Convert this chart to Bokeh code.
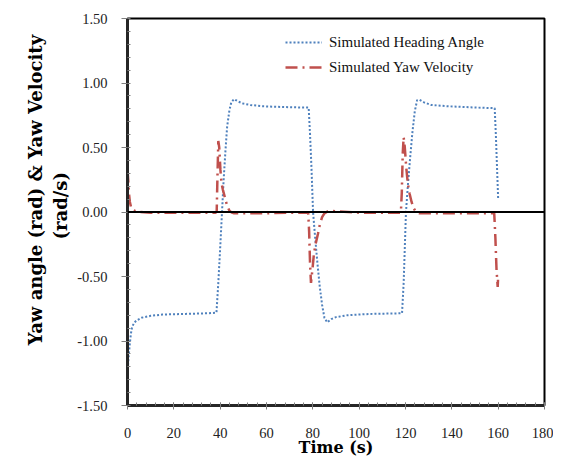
from bokeh.plotting import figure
from bokeh.embed import file_html
from bokeh.resources import INLINE
from bokeh.models import Span, SingleIntervalTicker, NumeralTickFormatter, Legend, LegendItem

# ---- data ----
heading_t = [0, 0.5, 1, 1.5, 2, 3, 4, 6, 10, 15, 25, 35, 38.4,
             39.2, 40, 40.8, 41.5, 42.3, 43, 44, 44.8, 46, 48, 50, 53, 58, 65, 75, 78.2,
             78.8, 79.4, 80.1, 81, 82, 83, 84, 85, 86.2, 88, 90, 95, 105, 118.5,
             119.2, 120.2, 121, 122, 123, 124, 125, 126, 128, 131, 138, 150, 158.5,
             159, 159.5, 160]
heading_v = [-1.25, -1.12, -1.02, -0.94, -0.89, -0.855, -0.84, -0.82, -0.805, -0.795, -0.79, -0.785, -0.78,
             -0.55, -0.28, 0.0, 0.25, 0.48, 0.66, 0.79, 0.85, 0.875, 0.855, 0.84, 0.83, 0.82, 0.815, 0.81, 0.81,
             0.6, 0.35, 0.0, -0.2, -0.4, -0.58, -0.72, -0.82, -0.856, -0.83, -0.815, -0.80, -0.79, -0.785,
             -0.55, 0.0, 0.2, 0.42, 0.62, 0.78, 0.866, 0.87, 0.85, 0.83, 0.82, 0.81, 0.805,
             0.6, 0.35, 0.1]

yaw_t = [0, 0.3, 0.6, 1, 1.5, 2, 3, 5, 10, 20, 30, 38,
         38.5, 38.8, 39.2, 39.6, 40.1, 40.6, 41.2, 41.8, 42.5, 43.2, 44, 45, 46, 50, 60, 70, 78,
         78.4, 78.8, 79.2, 79.8, 80.5, 81.3, 82.2, 83, 84, 85, 87, 90, 100, 110, 118,
         118.4, 118.8, 119.2, 119.7, 120.3, 121, 121.8, 122.6, 123.5, 124.5, 126, 130, 140, 150, 158.3,
         158.8, 159.3, 159.8, 160]
yaw_v = [0.32, 0.25, 0.15, 0.08, 0.04, 0.02, 0.01, 0.0, -0.005, -0.005, -0.005, -0.005,
         0.0, 0.25, 0.55, 0.5, 0.33, 0.22, 0.17, 0.13, 0.08, 0.04, 0.01, -0.005, -0.01, -0.01, -0.01, -0.005, -0.005,
         -0.15, -0.4, -0.55, -0.45, -0.32, -0.24, -0.17, -0.1, -0.04, -0.01, 0.01, 0.005, -0.005, -0.005, -0.005,
         0.15, 0.45, 0.58, 0.5, 0.35, 0.22, 0.14, 0.08, 0.03, 0.0, -0.01, -0.01, -0.01, -0.01, -0.01,
         -0.2, -0.45, -0.58, -0.5]

series_names = ["Simulated Heading Angle", "Simulated Yaw Velocity"]
x_title = "Time (s)"
# non-breaking spaces nudge each centred title line up, as in the reference
y_title = "\u00a0" * 7 + "Yaw angle (rad) & Yaw Velocity" + "\n" + "\u00a0" * 2 + "(rad/s)"

TICK_FONT = "Liberation Serif"
TITLE_FONT = "DejaVu Serif"

p = figure(width=553, height=459, x_range=(0, 180), y_range=(-1.5, 1.5),
           output_backend="svg", toolbar_location=None,
           min_border_left=127, min_border_right=9, min_border_top=18, min_border_bottom=53)

p.xgrid.visible = False
p.ygrid.visible = False
p.outline_line_color = "black"
p.outline_line_width = 2

r1 = p.line(heading_t, heading_v, line_color="#4F81BD", line_width=2, line_dash="2 2")
r2 = p.line(yaw_t, yaw_v, line_color="#C0504D", line_width=2.5, line_dash="12 5 2 5")

p.add_layout(Span(location=0, dimension="width", line_color="black", line_width=2))

p.xaxis.ticker = SingleIntervalTicker(interval=20, num_minor_ticks=5)
p.yaxis.ticker = SingleIntervalTicker(interval=0.5, num_minor_ticks=5)
p.yaxis.formatter = NumeralTickFormatter(format="0.00")

for ax in (p.xaxis, p.yaxis):
    ax.axis_line_color = "#262626"
    ax.axis_line_width = 3
    ax.major_tick_line_color = "#7f7f7f"
    ax.minor_tick_line_color = "#7f7f7f"
    ax.major_label_text_font = TICK_FONT
    ax.major_label_text_font_size = "14.5px"
    ax.major_label_text_color = "#222222"
    ax.axis_label_text_font = TITLE_FONT
    ax.axis_label_text_font_style = "bold"
    ax.axis_label_text_color = "black"

p.xaxis.axis_label = x_title
p.xaxis.axis_label_text_font_size = "16px"
p.yaxis.axis_label = y_title
p.yaxis.axis_label_text_font_size = "18px"
p.yaxis.axis_label_text_line_height = 1.2

p.xaxis.major_tick_in = 3
p.xaxis.major_tick_out = 4
p.xaxis.minor_tick_in = 3
p.xaxis.minor_tick_out = 0
p.xaxis.major_label_standoff = 18
p.xaxis.axis_label_standoff = -3
p.yaxis.major_tick_in = 0
p.yaxis.major_tick_out = 6
p.yaxis.minor_tick_in = 3
p.yaxis.minor_tick_out = 0
p.yaxis.major_label_standoff = 14
p.yaxis.axis_label_standoff = 3

legend = Legend(items=[LegendItem(label=series_names[0], renderers=[r1]),
                       LegendItem(label=series_names[1], renderers=[r2])],
                location=(158, 328), padding=0, margin=0, spacing=5,
                glyph_width=37, glyph_height=20, label_height=20, label_standoff=7,
                border_line_alpha=0, background_fill_alpha=0,
                label_text_font=TICK_FONT, label_text_font_size="15px", label_text_color="#111111")
p.add_layout(legend)

open("out.html", "w").write(file_html(p, INLINE))
